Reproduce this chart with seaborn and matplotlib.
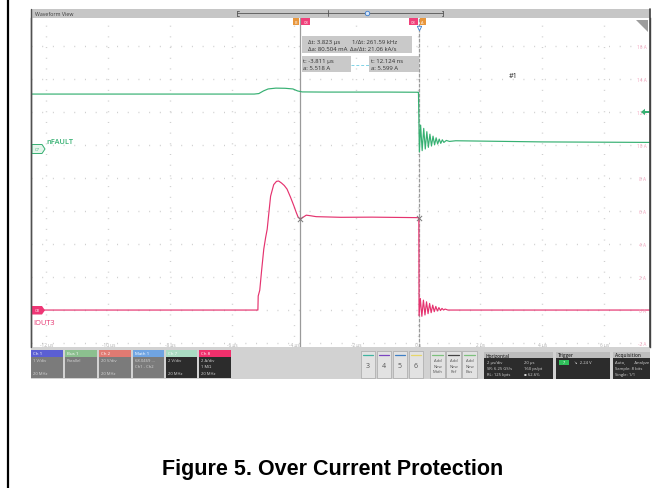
import numpy as np
import pandas as pd
import matplotlib
matplotlib.use("Agg")
import matplotlib.pyplot as plt
from matplotlib.patches import Rectangle, Polygon
import seaborn as sns

# ---------------------------------------------------------------- data ----
# IOUT3 (channel 8), time in microseconds, current in amps
iout_t = [-12.52, -5.18, -5.17, -5.12, -5.06, -4.99, -4.93, -4.88, -4.82, -4.77,
          -4.67, -4.58, -4.51, -4.42, -4.33, -4.24, -4.13, -4.02, -3.94, -3.88,
          -3.81, -3.74, -3.62, -3.50, -3.30, -2.50, -1.50, -0.50, -0.02, 0.012,
          0.02, 0.06, 0.11, 0.16, 0.21, 0.26, 0.31, 0.36, 0.41, 0.46,
          0.51, 0.56, 0.61, 0.66, 0.71, 0.76, 0.81, 0.86, 0.95, 7.48]
iout_a = [0.00, 0.00, 0.85, 1.20, 2.40, 3.70, 4.40, 4.90, 6.00, 6.90,
          7.60, 7.80, 7.82, 7.70, 7.55, 7.33, 6.85, 6.32, 5.90, 5.62,
          5.52, 5.60, 5.75, 5.72, 5.66, 5.62, 5.63, 5.61, 5.60, 5.599,
          -0.35, 0.70, -0.38, 0.60, -0.30, 0.50, -0.22, 0.40, -0.16, 0.30,
          -0.10, 0.22, -0.06, 0.15, -0.03, 0.10, 0.00, 0.06, 0.00, 0.00]

# nFAULT (channel 7), time in microseconds, level in volts
nfault_t = [-12.52, -5.30, -5.15, -5.00, -4.85, -4.60, -4.30, -4.05, -3.90, -3.75,
            -3.00, -1.00, -0.02, 0.00, 0.03, 0.07, 0.12, 0.17, 0.22, 0.27,
            0.32, 0.37, 0.42, 0.47, 0.52, 0.57, 0.62, 0.67, 0.72, 0.77,
            0.82, 0.90, 1.00, 1.20, 2.00, 4.00, 7.48]
nfault_v = [3.33, 3.33, 3.36, 3.52, 3.64, 3.69, 3.68, 3.64, 3.52, 3.46,
            3.45, 3.45, 3.44, 3.44, -0.18, 1.45, -0.10, 1.25, 0.00, 1.05,
            0.10, 0.90, 0.18, 0.78, 0.25, 0.68, 0.30, 0.60, 0.34, 0.56,
            0.40, 0.52, 0.46, 0.50, 0.48, 0.43, 0.40]
NFAULT_GROUND = 9.76      # channel 7 reference level on the shared grid
NFAULT_SCALE = 1.0        # 2 V/div drawn against 2 A/div

# cursor readouts (A = channel 8 at the cursor position)
cursor_t = [-3.811, 0.012124]
cursor_a = [5.518, 5.599]

time_ticks = [-12, -10, -8, -6, -4, -2, 0, 2, 4, 6]
time_labels = ["-12 µs", "-10 µs", "-8 µs", "-6 µs", "-4 µs", "-2 µs",
               "0 s", "2 µs", "4 µs", "6 µs"]
amp_ticks = [16, 14, 12, 10, 8, 6, 4, 2, 0, -2]
amp_labels = ["16 A", "14 A", "12 A", "10 A", "8 A", "6 A", "4 A",
              "2 A", "0 A", "-2 A"]

XMIN, XMAX = -12.50, 7.47
YMIN, YMAX = -2.24, 17.70

GREEN = "#36b072"
PINK = "#e5336f"
UI = ["Open Sans", "DejaVu Sans"]

# --------------------------------------------------------------- setup ----
sns.set_style("white")
plt.rcParams["font.family"] = UI

W, H = 667, 489
fig = plt.figure(figsize=(W / 100, H / 100), dpi=100)
fig.patch.set_facecolor("white")

# scope window bounds in pixels
L, R, T, B = 31, 650, 19, 348
ax = fig.add_axes([L / W, 1 - B / H, (R - L) / W, (B - T) / H])


def px_x(t):
    return L + (t - XMIN) / (XMAX - XMIN) * (R - L)


# ------------------------------------------------------------ waveforms ---
iout = pd.DataFrame({"t": iout_t, "a": iout_a})
nfault = pd.DataFrame({"t": nfault_t, "v": nfault_v})
nfault["y"] = NFAULT_GROUND + nfault["v"] * NFAULT_SCALE

sns.lineplot(data=nfault, x="t", y="y", ax=ax, color=GREEN, lw=0.85,
             estimator=None, sort=False)
sns.lineplot(data=iout, x="t", y="a", ax=ax, color=PINK, lw=0.85,
             estimator=None, sort=False)

ax.set_xlim(XMIN, XMAX)
ax.set_ylim(YMIN, YMAX)
ax.set_xlabel("")
ax.set_ylabel("")
ax.set_xticks(time_ticks)
ax.set_yticks(amp_ticks)
ax.tick_params(length=0, labelbottom=False, labelleft=False)
ax.grid(True, color="#cdcdcd", lw=1.0, linestyle=(0, (0.7, 7)))
ax.set_axisbelow(True)
for side in ("top", "bottom"):
    ax.spines[side].set_visible(False)
for side in ("left", "right"):
    ax.spines[side].set_color("#505050")
    ax.spines[side].set_linewidth(1.0)

for t, lab in zip(time_ticks, time_labels):
    ax.text(t, 0.008, lab, transform=ax.get_xaxis_transform(), ha="center",
            va="center", fontsize=3.4, color="#b0b0b0")
for a, lab in zip(amp_ticks, amp_labels):
    ax.text(0.994, a, lab, transform=ax.get_yaxis_transform(), ha="right",
            va="center", fontsize=3.4, color="#f2a4bd")

# cursors
ax.axvline(cursor_t[0], color="#9a9a9a", lw=0.9, zorder=1)
ax.axvline(cursor_t[1], color="#9a9a9a", lw=0.9, ls=(0, (3, 1)), zorder=1)
ax.scatter(cursor_t, cursor_a, marker="x", s=14, color="#7a7a7a", lw=0.7,
           zorder=5)

# -------------------------------------------------------------- overlay ---
ov = fig.add_axes([0, 0, 1, 1], zorder=5)
ov.set_xlim(0, W)
ov.set_ylim(H, 0)
ov.axis("off")


def box(x0, y0, x1, y1, fc, ec="none", lw=0.0):
    p = Rectangle((x0, y0), x1 - x0, y1 - y0, fc=fc, ec=ec, lw=lw)
    ov.add_patch(p)
    return p


def txt(x, y, s, size=3.4, color="#303030", **kw):
    return ov.text(x, y, s, fontsize=size, color=color, va="center", **kw)


# page frame line
ov.plot([8, 8], [0, H], color="black", lw=1.6)

# title bar
box(L, 10, R, T, "#c6c6c6")
ov.plot([L, L], [10, B], color="#505050", lw=1.0)
ov.plot([R, R], [10, B], color="#404040", lw=1.2)
txt(35, 14.5, "Waveform View", size=3.8, color="#3a3a3a")
ov.plot([237, 443], [14, 14], color="#555555", lw=0.6)
for xb, d in ((237, 1.5), (443, -1.5)):
    ov.plot([xb, xb], [11.5, 16.5], color="#555555", lw=0.6)
    ov.plot([xb, xb + d], [11.5, 11.5], color="#555555", lw=0.6)
    ov.plot([xb, xb + d], [16.5, 16.5], color="#555555", lw=0.6)
ov.plot([327.5, 327.5], [11, 17], color="#555555", lw=0.6)
ov.plot(366.5, 13.8, marker="o", ms=3.2, mfc="#d9e6f6", mec="#3d7fd0", mew=0.6)

# corner triangle
ov.add_patch(Polygon([(636, 21), (648, 21), (648, 33)], closed=True,
                     fc="#9d9d9d", ec="none"))

# cursor tags
c0, c1 = px_x(cursor_t[0]), px_x(cursor_t[1])
box(c0 - 7, 19, c0 - 1.5, 26, "#e8963c")
txt(c0 - 4.2, 22.5, "B", size=2.8, color="white", ha="center")
box(c0 + 0.8, 19, c0 + 10, 26, "#f0407a")
txt(c0 + 5.4, 22.5, "C8", size=2.8, color="white", ha="center")
box(c1 - 10, 19, c1 - 0.8, 26, "#f0407a")
txt(c1 - 5.4, 22.5, "C8", size=2.8, color="white", ha="center")
box(c1 + 0.8, 19, c1 + 6.8, 26, "#e8963c")
txt(c1 + 3.8, 22.5, "A", size=2.8, color="white", ha="center")
ov.plot(c1, 28.5, marker="v", ms=3.2, mfc="white", mec="#3d7fd0", mew=0.6)

# cursor readouts
box(302, 37, 412, 54, "#c9c9c9")
txt(308, 42.8, "Δt: 3.823 µs", size=4.3)
txt(352, 42.8, "1/Δt: 261.59 kHz", size=4.3)
txt(308, 49.8, "Δa: 80.504 mA", size=4.3)
txt(350, 49.8, "Δa/Δt: 21.06 kA/s", size=4.3)
box(301.5, 57, 351, 73, "#c9c9c9")
box(369, 57, 418.5, 73, "#c9c9c9")
ov.plot([351, 369], [65.5, 65.5], color="#7fd3e6", lw=0.7, ls=(0, (3, 2)))
txt(303, 61.3, f"t: {cursor_t[0]:.3f} µs", size=4.3)
txt(303, 68.2, f"a: {cursor_a[0]:.3f} A", size=4.3)
txt(371, 61.3, f"t: {cursor_t[1] * 1000:.3f} ns", size=4.3)
txt(371, 68.2, f"a: {cursor_a[1]:.3f} A", size=4.3)

txt(513.5, 76, "#1", size=5.2, color="#222222", ha="center")

# channel markers
ov.add_patch(Polygon([(32, 145.5), (42, 145.5), (45, 150), (42, 154.5), (32, 154.5)],
                     closed=True, fc="#e6f5ec", ec=GREEN, lw=0.7))
txt(37.5, 150, "C7", size=3.0, color=GREEN, ha="center")
txt(46, 143, "nFAULT", size=5.3, color=GREEN, fontweight="semibold")
ov.add_patch(Polygon([(32, 307), (42, 307), (45, 311.3), (42, 315.5), (32, 315.5)],
                     closed=True, fc="#ee3675", ec="none"))
txt(37.5, 311.3, "C8", size=3.0, color="white", ha="center")
txt(33.5, 323.5, "IOUT3", size=5.3, color=PINK)
ov.add_patch(Polygon([(641, 113), (645, 109.8), (645, 112), (649.5, 112),
                      (649.5, 114), (645, 114), (645, 116.2)],
                     closed=True, fc=GREEN, ec="none"))

# ---------------------------------------------------------- bottom bar ----
box(L, B, R, 380, "#d2d2d2")

channels = [
    (31, 63, "#5b5fd3", "#7b7b7b", "Ch 1", ["1 V/div", "", "20 MHz"]),
    (65, 97, "#8cc08f", "#7b7b7b", "Bus 1", ["Parallel"]),
    (99, 131, "#e07a72", "#7b7b7b", "Ch 2", ["20 V/div", "", "20 MHz"]),
    (133, 164, "#70a4e2", "#7b7b7b", "Math 1", ["68.0469 ...", "Ch1 - Ch2"]),
    (166, 197, "#aadcc3", "#2c2c2c", "Ch 7", ["2 V/div", "", "20 MHz"]),
    (199, 231, "#f0306c", "#2c2c2c", "Ch 8", ["2 A/div", "1 MΩ", "20 MHz"]),
]
for x0, x1, hc, bc, title, lines in channels:
    box(x0, 351, x1, 357.5, hc)
    box(x0, 357.5, x1, 379, bc)
    txt(x0 + 2, 354.2, title, size=3.2, color="white")
    for i, s in enumerate(lines):
        txt(x0 + 2, 361 + i * 6.3, s, size=3.0, color="#d8d8d8")

for x0, x1, lc, s in ((361, 375, "#3fb3a0", "3"), (377, 391, "#7a45c0", "4"),
                      (393, 407, "#3f7fc4", "5"), (409, 423, "#e6d66a", "6")):
    box(x0, 352, x1, 379, "#e2e2e2", ec="#a8a8a8", lw=0.5)
    ov.plot([x0 + 2, x1 - 2], [355.5, 355.5], color=lc, lw=0.9)
    txt((x0 + x1) / 2, 366, s, size=5.0, color="#555555", ha="center")

for x0, x1, lc, s in ((430, 445, "#7cc07c", "Math"), (446, 461, "#444444", "Ref"),
                      (462, 477, "#7cc07c", "Bus")):
    box(x0, 352, x1, 379, "#e2e2e2", ec="#a8a8a8", lw=0.5)
    ov.plot([x0 + 2, x1 - 2], [355.5, 355.5], color=lc, lw=0.9)
    for i, w in enumerate(("Add", "New", s)):
        txt((x0 + x1) / 2, 361 + i * 5.6, w, size=3.0, color="#555555", ha="center")

panels = [
    (484, 553, "Horizontal"),
    (556, 610, "Trigger"),
    (613, 650, "Acquisition"),
]
bodies = {}
for x0, x1, title in panels:
    box(x0, 353, x1, 359, "#bdbdbd")
    bodies[title] = box(x0, 359, x1, 380, "#2c2c2c")
    txt(x0 + 2, 356, title, size=3.4, color="#2c2c2c", fontweight="semibold")

hz = [("2 µs/div", "20 µs"), ("SR: 6.25 GS/s", "160 ps/pt"),
      ("RL: 125 kpts", "▪ 62.6%")]
for i, (a, b) in enumerate(hz):
    txt(487, 363 + i * 6, a, size=3.0, color="#d8d8d8")
    txt(524, 363 + i * 6, b, size=3.0, color="#d8d8d8")

box(559, 361, 569, 366, "#2fbf5a")
txt(564, 363.5, "7", size=2.8, color="white", ha="center")
txt(574, 363.5, "↘  2.24 V", size=3.0, color="#d8d8d8")

for i, s in enumerate(("Auto,        Analyze", "Sample: 8 bits", "Single: 1/1")):
    t = txt(615, 363 + i * 6, s, size=3.0, color="#d8d8d8")
    t.set_clip_path(bodies["Acquisition"])

# --------------------------------------------------------------- caption --
fig.text(333 / W, 1 - 470 / H, "Figure 5. Over Current Protection",
         ha="center", va="center", fontsize=15.5, fontweight="bold",
         family=["Liberation Sans", "DejaVu Sans"], color="black")

fig.savefig("out.png", dpi=100, facecolor="white")
